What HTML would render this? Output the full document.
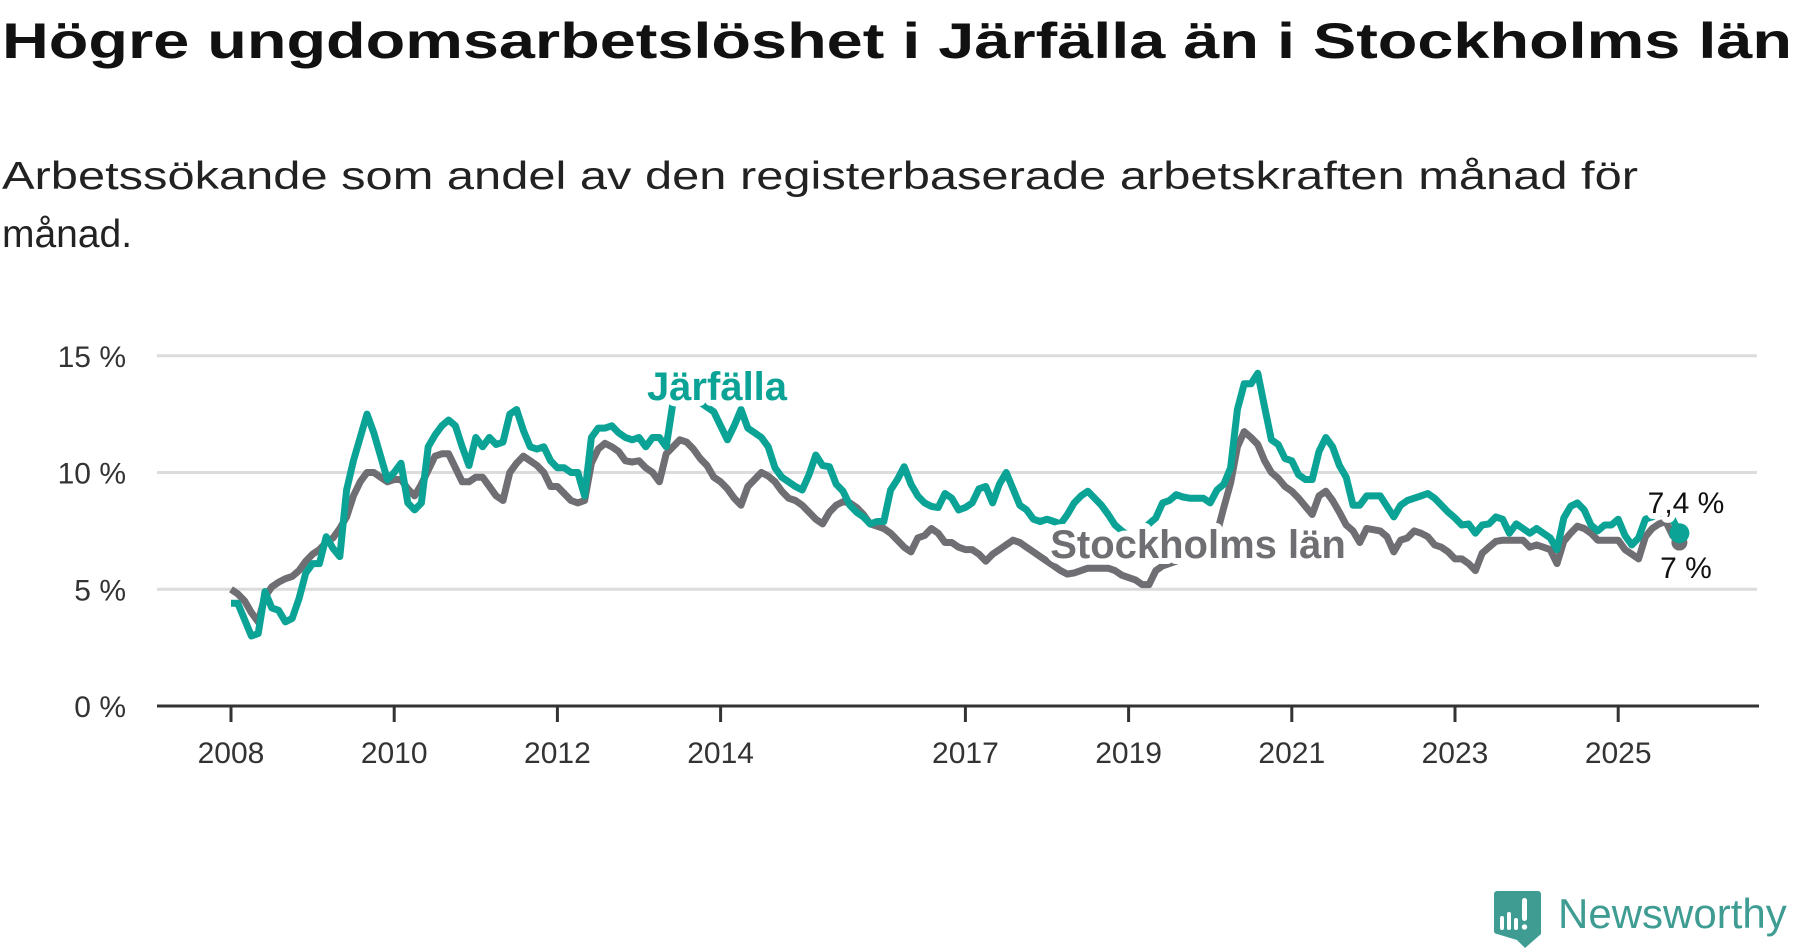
<!DOCTYPE html>
<html><head><meta charset="utf-8"><style>
html,body{margin:0;padding:0;background:#fff;}
svg{display:block;font-family:"Liberation Sans",sans-serif;}
</style></head><body>
<svg id="chart" width="1800" height="948" viewBox="0 0 1800 948">
<text x="2" y="58" font-size="50" font-weight="bold" fill="#111" textLength="1790" lengthAdjust="spacingAndGlyphs">Högre ungdomsarbetslöshet i Järfälla än i Stockholms län</text>
<text x="2" y="189" font-size="39" fill="#222" textLength="1636" lengthAdjust="spacingAndGlyphs">Arbetssökande som andel av den registerbaserade arbetskraften månad för</text>
<text x="2" y="247" font-size="39" fill="#222">månad.</text>
<g id="grid"></g>
<g id="axes"></g>
<g id="series"></g>
<g id="labels"></g>
<g>
<path d="M1494 891 h44 a3 3 0 0 1 3 3 v40 l-16 14 l-8-8 l-20-6 a3 3 0 0 1 -3 -3 v-37 a3 3 0 0 1 3 -3z" fill="#3e9c93"/>
<rect x="1500" y="916" width="4" height="14" rx="2" fill="#fff"/>
<rect x="1507" y="912" width="4" height="18" rx="2" fill="#fff"/>
<rect x="1514" y="918" width="4" height="12" rx="2" fill="#fff"/>
<rect x="1522" y="898" width="5" height="23" rx="2.5" fill="#fff"/>
<circle cx="1524.5" cy="927" r="2.7" fill="#fff"/>
<text x="1558" y="928" font-size="42" fill="#3e9c93">Newsworthy</text>
</g>
</svg>
<script>
const startYear = 2008;
const jarfalla = [4.4,4.4,3.7,3.0,3.1,4.9,4.2,4.1,3.6,3.75,4.6,5.7,6.1,6.1,7.25,6.75,6.4,9.25,10.5,11.5,12.5,11.7,10.7,9.7,10.0,10.4,8.7,8.4,8.7,11.1,11.6,12.0,12.25,12.0,11.1,10.3,11.5,11.1,11.5,11.2,11.3,12.5,12.7,11.8,11.1,11.0,11.1,10.5,10.2,10.2,10.0,10.0,9.0,11.5,11.9,11.9,12.0,11.7,11.5,11.4,11.5,11.1,11.5,11.5,11.1,13.0,13.3,13.5,13.2,13.0,12.8,12.6,12.0,11.4,12.0,12.7,11.9,11.7,11.5,11.1,10.2,9.8,9.6,9.4,9.25,9.9,10.75,10.3,10.25,9.5,9.2,8.6,8.3,8.1,7.8,7.9,7.9,9.25,9.7,10.25,9.5,9.0,8.7,8.55,8.5,9.1,8.9,8.4,8.5,8.7,9.3,9.4,8.7,9.5,10.0,9.3,8.6,8.4,8.0,7.9,8.0,7.9,7.8,8.2,8.7,9.0,9.2,8.9,8.6,8.2,7.75,7.5,7.3,7.3,7.5,7.8,8.05,8.7,8.8,9.05,8.95,8.9,8.9,8.9,8.7,9.25,9.5,10.2,12.7,13.8,13.8,14.25,12.8,11.4,11.2,10.6,10.5,9.9,9.7,9.7,10.9,11.5,11.1,10.3,9.8,8.6,8.6,9.0,9.0,9.0,8.55,8.1,8.6,8.8,8.9,9.0,9.1,8.9,8.6,8.3,8.05,7.75,7.8,7.4,7.75,7.8,8.1,8.0,7.4,7.8,7.6,7.4,7.6,7.4,7.2,6.7,8.05,8.55,8.7,8.4,7.75,7.5,7.75,7.75,8.0,7.3,6.9,7.2,8.0,8.1,8.25,8.25,8.0,7.4];
const stockholm = [5.0,4.8,4.5,4.0,3.6,4.7,5.1,5.3,5.45,5.55,5.8,6.2,6.5,6.7,7.0,7.2,7.6,8.1,9.0,9.6,10.0,10.0,9.8,9.6,9.7,9.7,9.3,9.0,9.5,10.1,10.7,10.8,10.8,10.2,9.6,9.6,9.8,9.8,9.4,9.0,8.8,10.0,10.4,10.7,10.5,10.3,10.0,9.4,9.4,9.1,8.8,8.7,8.8,10.4,11.0,11.25,11.1,10.9,10.5,10.45,10.5,10.2,10.0,9.6,10.8,11.1,11.4,11.3,11.0,10.6,10.3,9.8,9.6,9.3,8.9,8.6,9.4,9.7,10.0,9.85,9.6,9.2,8.9,8.8,8.6,8.3,8.0,7.8,8.3,8.6,8.75,8.7,8.5,8.2,7.8,7.7,7.6,7.4,7.1,6.8,6.6,7.2,7.3,7.6,7.4,7.0,7.0,6.8,6.7,6.7,6.5,6.2,6.5,6.7,6.9,7.1,7.0,6.8,6.6,6.4,6.2,6.0,5.8,5.65,5.7,5.8,5.9,5.9,5.9,5.9,5.8,5.6,5.5,5.4,5.2,5.2,5.8,6.0,6.1,6.2,6.35,6.5,6.65,6.8,7.0,7.4,8.5,9.55,11.1,11.75,11.5,11.2,10.5,10.0,9.75,9.4,9.2,8.9,8.55,8.2,9.0,9.2,8.8,8.3,7.75,7.5,7.0,7.6,7.55,7.5,7.25,6.6,7.1,7.2,7.5,7.4,7.25,6.9,6.8,6.6,6.3,6.3,6.1,5.8,6.55,6.8,7.05,7.1,7.1,7.1,7.1,6.8,6.9,6.8,6.7,6.1,7.05,7.4,7.7,7.6,7.4,7.1,7.1,7.1,7.1,6.7,6.5,6.3,7.25,7.6,7.8,7.9,7.3,7.0];
const yTicks = [0,5,10,15];
const yTickLabels = ["0 %","5 %","10 %","15 %"];
const xTickYears = [2008,2010,2012,2014,2017,2019,2021,2023,2025];

const NS = "http://www.w3.org/2000/svg";
const x = m => 231 + m * 6.8;
const y = v => 706 - v * 23.35;
const xYear = yr => x((yr - startYear) * 12);
function mk(tag, attrs, parent){const e=document.createElementNS(NS,tag);for(const k in attrs)e.setAttribute(k,attrs[k]);parent.appendChild(e);return e;}
const grid=document.getElementById('grid'),axes=document.getElementById('axes'),series=document.getElementById('series'),labels=document.getElementById('labels');

yTicks.forEach((t,i)=>{
  if(t>0){const l=mk('line',{x1:157,x2:1757,y1:y(t),y2:y(t),stroke:'#dcdcdc','stroke-width':3},grid);
  
  }
  const tx=mk('text',{x:126,y:y(t)+11,'text-anchor':'end','font-size':30,fill:'#333'},axes);
  tx.textContent=yTickLabels[i];
  
  
});
const ax=mk('line',{x1:157,x2:1759,y1:y(0),y2:y(0),stroke:'#333','stroke-width':3},axes);


xTickYears.forEach(yr=>{
  const t=mk('line',{x1:xYear(yr),x2:xYear(yr),y1:y(0),y2:y(0)+16,stroke:'#333','stroke-width':3},axes);
  
  
  const tx=mk('text',{x:xYear(yr),y:763,'text-anchor':'middle','font-size':30,fill:'#333'},axes);
  tx.textContent=yr;
  
  
});
function path(vals){return vals.map((v,i)=>(i?'L':'M')+x(i).toFixed(1)+' '+y(v).toFixed(1)).join(' ');}
const gp=mk('path',{d:path(stockholm),fill:'none',stroke:'#6f6e73','stroke-width':7,'stroke-linejoin':'round'},series);


const tp=mk('path',{d:path(jarfalla),fill:'none',stroke:'#0aa396','stroke-width':7,'stroke-linejoin':'round'},series);


const last=jarfalla.length-1;
const dg=mk('circle',{cx:x(last),cy:y(stockholm[last]),r:8,fill:'#6f6e73'},series);


const dt=mk('circle',{cx:x(last),cy:y(jarfalla[last]),r:10,fill:'#0aa396'},series);



function label(txt,cx,cy,size,color,weight,anchor,name){
  const h=mk('text',{x:cx,y:cy,'text-anchor':anchor,'font-size':size,'font-weight':weight,fill:'#fff',stroke:'#fff','stroke-width':12,'stroke-linejoin':'round'},labels);
  h.textContent=txt;
  
  
  const t=mk('text',{x:cx,y:cy,'text-anchor':anchor,'font-size':size,'font-weight':weight,fill:color},labels);
  t.textContent=txt;
  
  
}
label('Järfälla',717,400,40,'#0aa396','bold','middle','jarfalla-label');
label('Stockholms län',1198,558,40,'#6f6e73','bold','middle','stockholms-lan-label');
label('7,4 %',1686,513,30,'#111','normal','middle','jarfalla-end-value');
label((''+stockholm[last]).replace('.',',')+' %',1686,578,30,'#111','normal','middle','stockholms-lan-end-value');
</script>
</body></html>
